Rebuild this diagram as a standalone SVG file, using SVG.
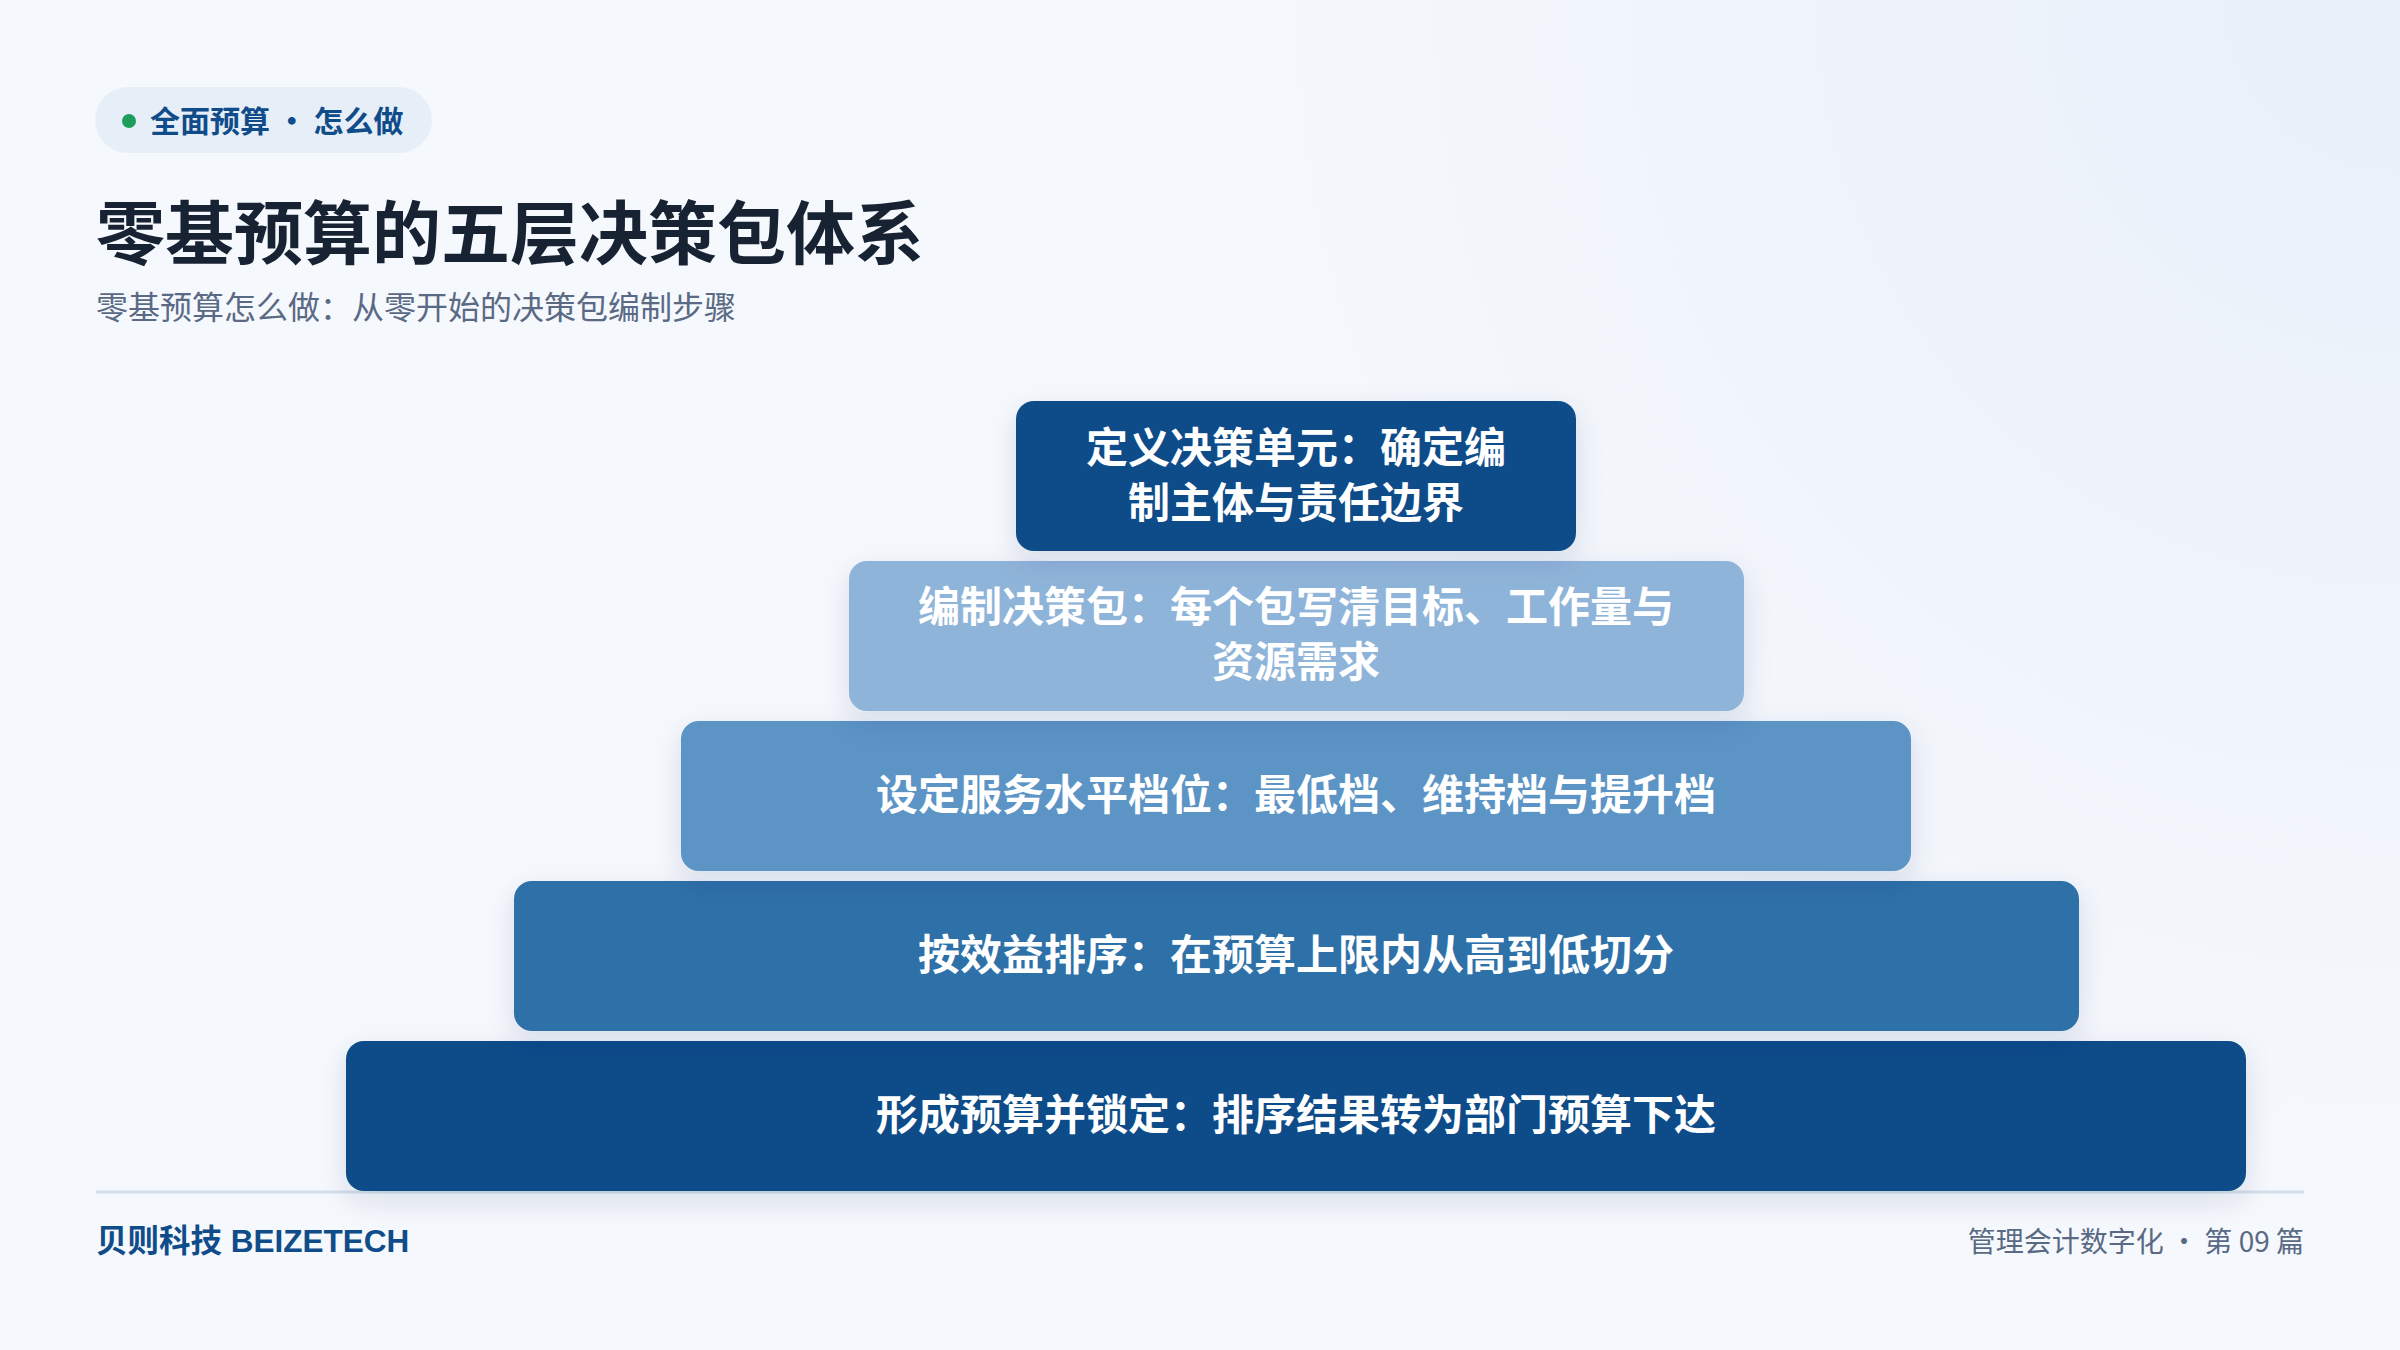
<svg xmlns="http://www.w3.org/2000/svg" width="2400" height="1350" viewBox="0 0 2400 1350">
<defs>
<radialGradient id="bg" cx="2400" cy="0" r="1200" gradientUnits="userSpaceOnUse">
<stop offset="0" stop-color="#e9f0fa"/>
<stop offset="1" stop-color="#f5f8fc"/>
</radialGradient>
<filter id="sh" x="-10%" y="-30%" width="120%" height="170%">
<feDropShadow dx="0" dy="10" stdDeviation="14" flood-color="#0f3a6b" flood-opacity="0.12"/>
</filter>
<style>
text{font-family:"Noto Sans CJK SC","Noto Sans",sans-serif}
text.lat{font-family:"Liberation Sans","Noto Sans CJK SC",sans-serif}
.lt{fill:#ffffff;font-size:42px;font-weight:700;text-anchor:middle}
.box{filter:url(#sh)}
</style>
</defs>
<rect width="2400" height="1350" fill="url(#bg)"/>
<g id="tag">
<rect x="95" y="87" width="337" height="66" rx="33" fill="#e6eef8"/>
<circle cx="129" cy="121" r="7" fill="#1f9d5c"/>
<text x="150" y="132" font-size="30" font-weight="700" fill="#0f4c89">全面预算 · 怎么做</text>
</g>
<g id="header">
<text x="96" y="259" font-size="69" font-weight="700" fill="#172233">零基预算的五层决策包体系</text>
<text x="96" y="319" font-size="32" fill="#5a6a85">零基预算怎么做：从零开始的决策包编制步骤</text>
</g>
<g id="connectors"></g>
<line x1="96" y1="1192" x2="2304" y2="1192" stroke="#d6dee9" stroke-width="3"/>
<g id="layer5">
<rect class="box" x="346" y="1041" width="1900" height="150" rx="18" fill="#0f4c89"/>
<text class="lt" x="1296" y="1130">形成预算并锁定：排序结果转为部门预算下达</text>
</g>
<g id="layer4">
<rect class="box" x="514" y="881" width="1565" height="150" rx="18" fill="#2e6fa8"/>
<text class="lt" x="1296" y="970">按效益排序：在预算上限内从高到低切分</text>
</g>
<g id="layer3">
<rect class="box" x="681" y="721" width="1230" height="150" rx="18" fill="#5b94c6"/>
<text class="lt" x="1296" y="810">设定服务水平档位：最低档、维持档与提升档</text>
</g>
<g id="layer2">
<rect class="box" x="849" y="561" width="895" height="150" rx="18" fill="#8fb4d9"/>
<text class="lt" x="1296" y="622">编制决策包：每个包写清目标、工作量与</text>
<text class="lt" x="1296" y="677">资源需求</text>
</g>
<g id="layer1">
<rect class="box" x="1016" y="401" width="560" height="150" rx="18" fill="#0f4c89"/>
<text class="lt" x="1296" y="463">定义决策单元：确定编</text>
<text class="lt" x="1296" y="518">制主体与责任边界</text>
</g>
<g id="footer">
<text class="lat" x="96" y="1252" font-size="31.5" font-weight="700" fill="#0f4c89">贝则科技 BEIZETECH</text>
<text x="2304" y="1252" font-size="28" fill="#5a6a85" text-anchor="end">管理会计数字化 · 第 09 篇</text>
</g>
</svg>
